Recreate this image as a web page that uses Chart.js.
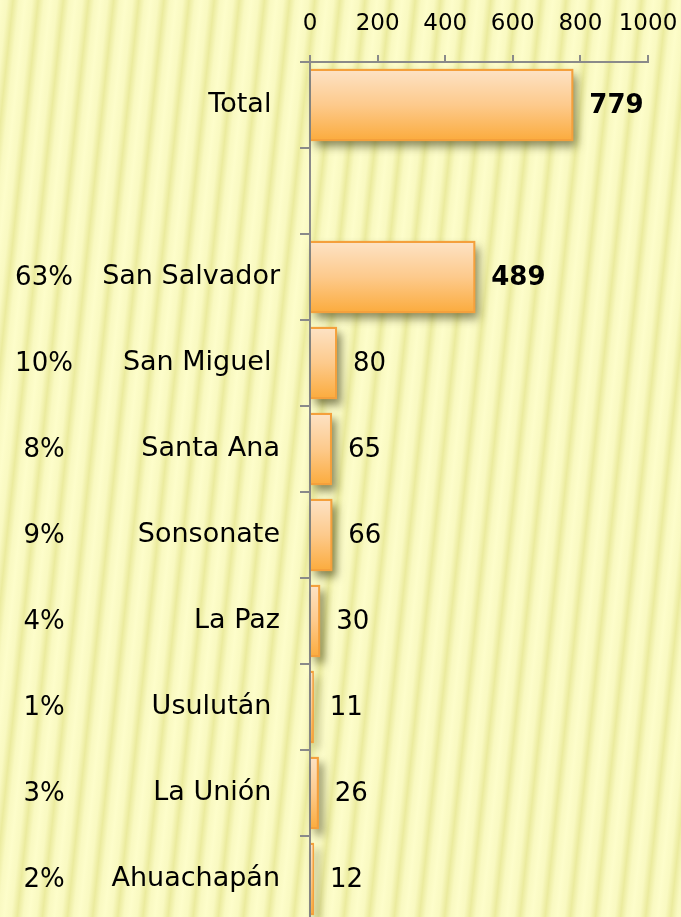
<!DOCTYPE html>
<html lang="es">
<head>
    <meta charset="UTF-8">
    <title>Casos por departamento</title>
    <script src="https://cdn.jsdelivr.net/npm/chart.js"></script>
    <style>
        html, body { margin: 0; padding: 0; overflow: hidden; }
        .wrap {
            width: 681px;
            height: 922px;
            background-color: #fafac0;
            background-image: repeating-linear-gradient(96deg,
                #fdfdca 0px, #f9f9c1 7px, #ebeb9e 13px, #f9f9c1 19px, #fdfdca 25px);
        }
    </style>
</head>
<body>
    <div class="wrap">
        <canvas id="chart" width="681" height="922"></canvas>
    </div>

    <script>
        // categories (trailing spaces as in the original labels)
        const departments = ['Total ', '', 'San Salvador', 'San Miguel ', 'Santa Ana', 'Sonsonate',
                             'La Paz', 'Usulután ', 'La Unión ', 'Ahuachapán'];
        const cases = [779, null, 489, 80, 65, 66, 30, 11, 26, 12];
        const shares = ['', '', '63%', '10%', '8%', '9%', '4%', '1%', '3%', '2%'];
        const xTicks = [0, 200, 400, 600, 800, 1000];
        const boldRows = ['Total ', 'San Salvador'];

        const FONT = 'DejaVu Sans';
        const BAR_PCT = 0.84;

        // vertical peach -> orange gradient for each bar
        function barFill(c) {
            const chart = c.chart;
            const ys = chart.scales.y;
            if (!ys || !chart.chartArea) return '#fdc98a';
            const cy = ys.getPixelForValue(c.dataIndex);
            const h = ys.height / departments.length * BAR_PCT;
            const g = chart.ctx.createLinearGradient(0, cy - h / 2, 0, cy + h / 2);
            g.addColorStop(0, '#fde3c6');
            g.addColorStop(0.5, '#fdca8c');
            g.addColorStop(1, '#fbab3c');
            return g;
        }

        // bar shadow and value labels
        const barDecor = {
            id: 'barDecor',
            beforeDatasetsDraw(chart) {
                const ctx = chart.ctx;
                const meta = chart.getDatasetMeta(0);
                meta.data.forEach((bar, i) => {
                    if (cases[i] == null) return;
                    const top = bar.y - bar.height / 2;
                    const left = Math.min(bar.base, bar.x);
                    const w = Math.abs(bar.x - bar.base);
                    ctx.save();
                    ctx.shadowColor = 'rgba(60,60,20,0.6)';
                    ctx.shadowBlur = 9;
                    ctx.shadowOffsetX = 4;
                    ctx.shadowOffsetY = 6;
                    ctx.fillStyle = '#f4a03c';
                    ctx.fillRect(left, top, w, bar.height);
                    ctx.restore();
                });
            },
            afterDatasetsDraw(chart) {
                const ctx = chart.ctx;
                const meta = chart.getDatasetMeta(0);
                ctx.save();
                ctx.fillStyle = '#000';
                ctx.textBaseline = 'middle';
                ctx.textAlign = 'left';
                meta.data.forEach((bar, i) => {
                    if (cases[i] == null) return;
                    const bold = boldRows.includes(departments[i]);
                    ctx.font = (bold ? 'bold ' : '') + '26px "' + FONT + '"';
                    ctx.fillText(String(cases[i]), bar.x + 16, bar.y + 1);
                });
                ctx.restore();
            },
            afterDraw(chart) {
                // percentage column on the far left
                const ctx = chart.ctx;
                const y = chart.scales.y;
                ctx.save();
                ctx.fillStyle = '#000';
                ctx.textBaseline = 'middle';
                ctx.textAlign = 'center';
                ctx.font = '26px "' + FONT + '"';
                shares.forEach((s, i) => {
                    if (!s) return;
                    ctx.fillText(s, 44, y.getPixelForValue(i) + 1);
                });
                ctx.restore();
            }
        };

        new Chart(document.getElementById('chart').getContext('2d'), {
            type: 'bar',
            data: {
                labels: departments,
                datasets: [{
                    data: cases,
                    backgroundColor: barFill,
                    borderColor: '#f4a03c',
                    borderWidth: 2,
                    categoryPercentage: 1,
                    barPercentage: BAR_PCT
                }]
            },
            options: {
                indexAxis: 'y',
                responsive: false,
                animation: false,
                layout: {
                    autoPadding: false,
                    padding: { left: 0, right: 33, top: 0, bottom: 0 }
                },
                plugins: {
                    legend: { display: false },
                    tooltip: { enabled: false }
                },
                scales: {
                    x: {
                        position: 'top',
                        min: xTicks[0],
                        max: xTicks[xTicks.length - 1],
                        afterBuildTicks: s => { s.ticks = xTicks.map(v => ({ value: v })); },
                        afterFit: s => {
                            s.height = 62;
                            s.paddingLeft = 0; s.paddingRight = 0;
                            s.paddingTop = 0; s.paddingBottom = 0;
                        },
                        ticks: {
                            color: '#000',
                            font: { family: FONT, size: 23 },
                            padding: 17,
                            maxRotation: 0,
                            callback: v => String(v)
                        },
                        grid: {
                            drawOnChartArea: false,
                            tickLength: 7,
                            color: '#8a8a8a',
                            lineWidth: 2
                        },
                        border: { color: '#8a8a8a', width: 2 }
                    },
                    y: {
                        afterFit: s => {
                            s.width = 310;
                            s.paddingLeft = 0; s.paddingRight = 0;
                            s.paddingTop = 0; s.paddingBottom = 0;
                        },
                        ticks: {
                            color: '#000',
                            font: { family: FONT, size: 27 },
                            padding: 20,
                            autoSkip: false
                        },
                        grid: {
                            offset: true,
                            drawOnChartArea: false,
                            tickLength: 10,
                            color: '#8a8a8a',
                            lineWidth: 2
                        },
                        border: { color: '#8a8a8a', width: 2 }
                    }
                }
            },
            plugins: [barDecor]
        });
    </script>
</body>
</html>
